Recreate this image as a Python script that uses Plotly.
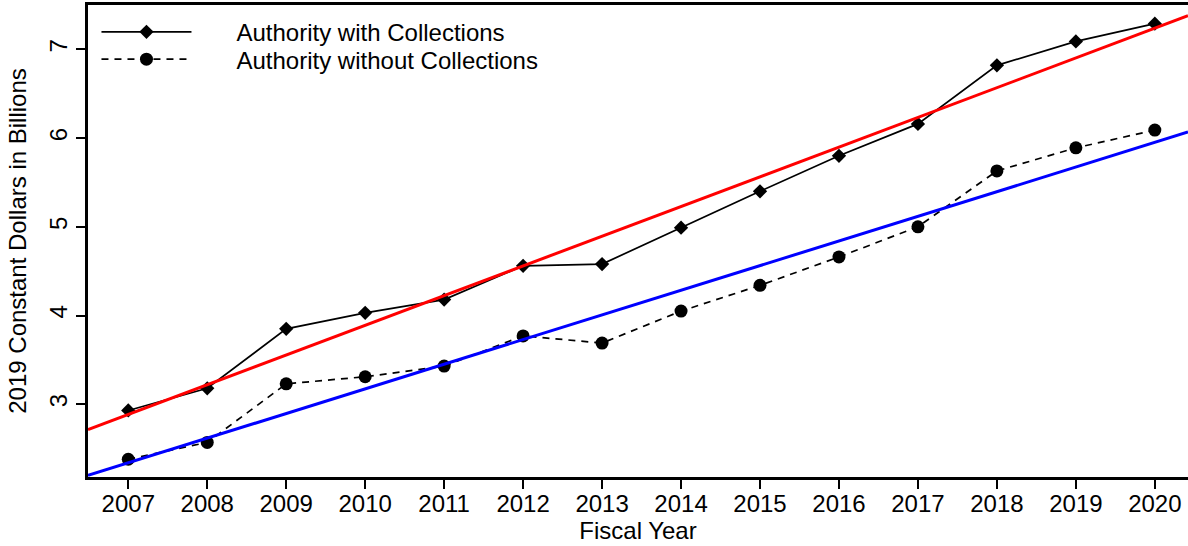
import numpy as np
import plotly.graph_objects as go

# Fiscal years and budget authority (2019 constant dollars, billions)
years = [2007, 2008, 2009, 2010, 2011, 2012, 2013, 2014, 2015, 2016, 2017, 2018, 2019, 2020]
with_collections = [2.93, 3.18, 3.85, 4.03, 4.18, 4.56, 4.58, 4.99, 5.40, 5.80, 6.16, 6.82, 7.09, 7.29]
without_collections = [2.38, 2.57, 3.23, 3.31, 3.43, 3.77, 3.69, 4.05, 4.34, 4.66, 5.00, 5.63, 5.89, 6.09]
y_ticks = [3, 4, 5, 6, 7]

x_range = [2006.49, 2020.42]
y_range = [2.18, 7.50]

FONT = "Arial, Liberation Sans, sans-serif"
SIZE = 24
PAD = "\u00a0" * 6  # gap between legend key and its label

fig = go.Figure()

fig.add_trace(go.Scatter(
    x=years, y=with_collections, mode="lines+markers",
    name=PAD + "Authority with Collections", legend="legend",
    line=dict(color="black", width=1.7),
    marker=dict(symbol="diamond", size=11, color="black"),
))
fig.add_trace(go.Scatter(
    x=years, y=without_collections, mode="lines+markers",
    name=PAD + "Authority without Collections", legend="legend2",
    line=dict(color="black", width=1.7, dash="7px,6px"),
    marker=dict(symbol="circle", size=13, color="black"),
))

# Least-squares trend lines spanning the whole plotting region
for series, colour in ((with_collections, "#ff0000"), (without_collections, "#0000ff")):
    slope, intercept = np.polyfit(years, series, 1)
    xs = np.array(x_range)
    fig.add_trace(go.Scatter(
        x=xs, y=slope * xs + intercept, mode="lines",
        line=dict(color=colour, width=3), showlegend=False, hoverinfo="skip",
    ))

legend_style = dict(
    xanchor="left", yanchor="top",
    bgcolor="rgba(0,0,0,0)", borderwidth=0,
    font=dict(family=FONT, size=SIZE, color="black"),
    itemwidth=90,
)

fig.update_layout(
    width=1188, height=546,
    margin=dict(l=88, r=0, t=5, b=69),
    paper_bgcolor="white", plot_bgcolor="white",
    font=dict(family=FONT, size=SIZE, color="black"),
    showlegend=True,
    legend=dict(x=0.0077, y=0.990, **legend_style),
    legend2=dict(x=0.0077, y=0.932, **legend_style),
)

fig.update_xaxes(
    range=x_range, tickmode="array", tickvals=years,
    ticktext=[str(y) for y in years],
    showgrid=False, zeroline=False,
    showline=True, linecolor="black", linewidth=2.5, mirror=True,
    ticks="outside", ticklen=9, tickwidth=1.5, tickcolor="black",
    tickfont=dict(family=FONT, size=SIZE),
    ticklabelstandoff=-6,
    title=dict(text="Fiscal Year", font=dict(family=FONT, size=SIZE), standoff=4),
)
fig.update_yaxes(
    range=y_range, tickmode="array", tickvals=y_ticks,
    showgrid=False, zeroline=False,
    showline=True, linecolor="black", linewidth=2.5, mirror=False,
    ticks="outside", ticklen=9, tickwidth=1.5, tickcolor="black",
    tickangle=-90,
    tickfont=dict(family=FONT, size=SIZE),
    title=dict(text="2019 Constant Dollars in Billions", font=dict(family=FONT, size=SIZE), standoff=12),
)

fig.write_html("out.html")
